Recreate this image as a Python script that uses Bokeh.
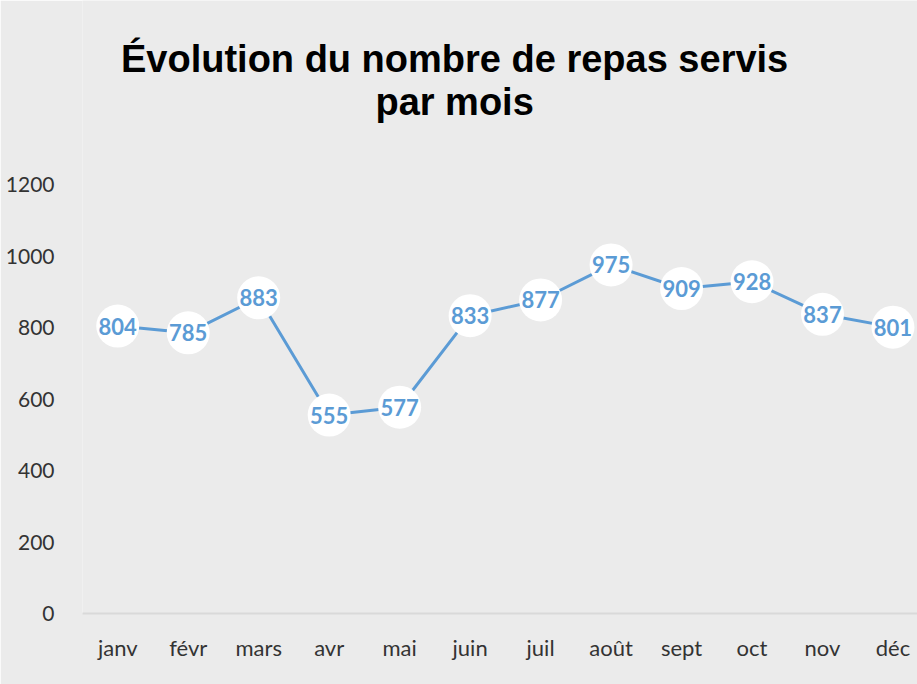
from bokeh.plotting import figure
from bokeh.models import Range1d, FixedTicker, ColumnDataSource
from bokeh.core.properties import value
from bokeh.embed import file_html
from bokeh.resources import INLINE

months = ["janv", "févr", "mars", "avr", "mai", "juin", "juil", "août", "sept", "oct", "nov", "déc"]
meals = [804, 785, 883, 555, 577, 833, 877, 975, 909, 928, 837, 801]
y_ticks = [0, 200, 400, 600, 800, 1000, 1200]
title_lines = ["Évolution du nombre de repas servis", "par mois"]

BG = "#ebebeb"
BLUE = "#5b9bd5"

xs = list(range(len(months)))
src = ColumnDataSource(dict(x=xs, y=meals, lab=[str(v) for v in meals]))

p = figure(width=917, height=684, output_backend="svg", toolbar_location=None,
           x_range=Range1d(-0.5, 11.348), y_range=Range1d(0, 1714.7),
           min_border_left=82, min_border_right=0, min_border_top=0, min_border_bottom=71)
p.background_fill_color = BG
p.border_fill_color = BG
p.outline_line_color = None
p.grid.visible = False

p.line("x", "y", source=src, line_color=BLUE, line_width=3)
p.scatter("x", "y", source=src, size=43, fill_color="white", line_color=None)
p.text("x", "y", text="lab", source=src, text_color=BLUE, text_font=value("Lato"),
       text_font_style="bold", text_font_size="22px", text_align="center", text_baseline="middle")

# title (drawn inside the frame area above the 1200 tick)
tsrc = ColumnDataSource(dict(x=[4.78, 4.78], y=[1550, 1432], t=title_lines))
p.text("x", "y", text="t", source=tsrc, text_align="center", text_baseline="middle",
       text_font=value("Liberation Sans"), text_font_style="bold",
       text_font_size="38px", text_color="black")

# axes
p.xaxis.ticker = FixedTicker(ticks=xs)
p.xaxis.major_label_overrides = {i: m for i, m in enumerate(months)}
p.xaxis.axis_line_color = "#d9d9d9"
p.xaxis.axis_line_width = 2
p.xaxis.major_tick_line_color = None
p.xaxis.minor_tick_line_color = None
p.xaxis.major_label_standoff = 14
p.xaxis.major_label_text_font = "Lato"
p.xaxis.major_label_text_font_size = "22px"
p.xaxis.major_label_text_color = "#333333"

p.yaxis.ticker = FixedTicker(ticks=y_ticks)
p.yaxis.axis_line_color = None
p.yaxis.major_tick_line_color = None
p.yaxis.minor_tick_line_color = None
p.yaxis.major_label_standoff = 22
p.yaxis.major_label_text_font = "Lato"
p.yaxis.major_label_text_font_size = "21px"
p.yaxis.major_label_text_color = "#333333"

open("out.html", "w").write(file_html(p, INLINE))
